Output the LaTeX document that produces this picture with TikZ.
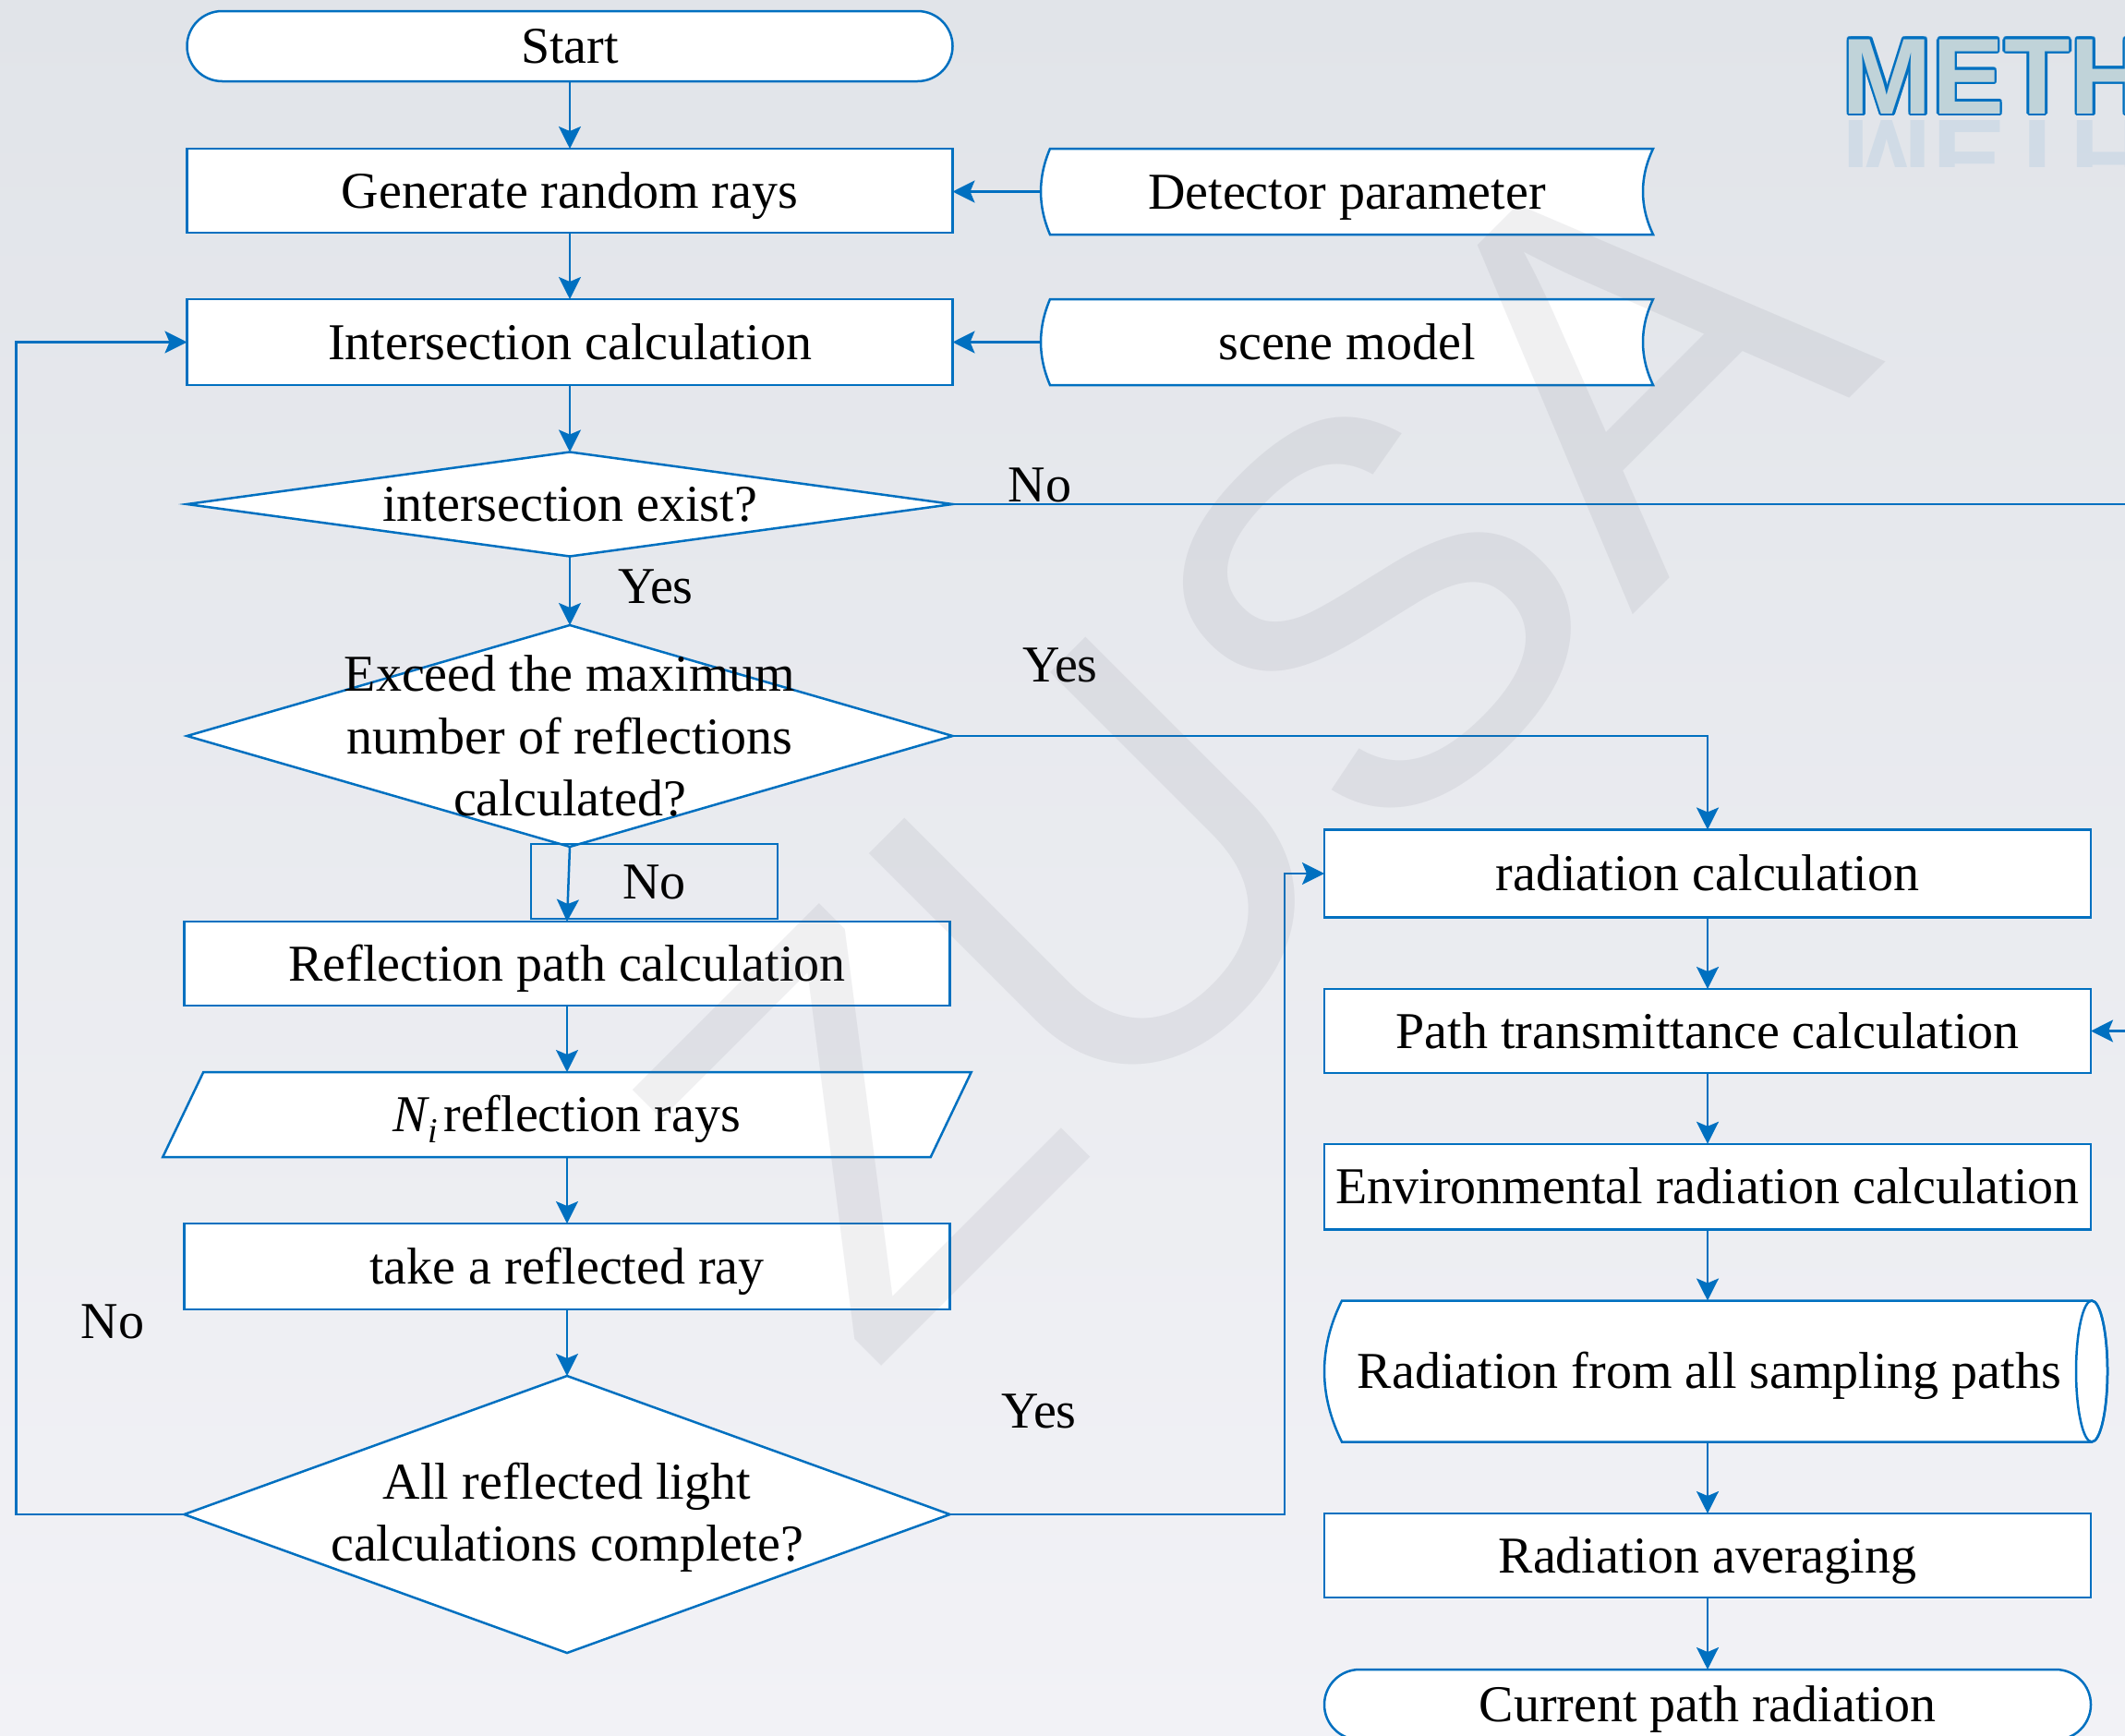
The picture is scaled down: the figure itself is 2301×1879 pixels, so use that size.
\documentclass[tikz,border=0pt]{standalone}
\usepackage{fontspec}
\usepackage{graphicx}
\setmainfont{Liberation Serif}
\newfontfamily\methfont{Liberation Sans}
\newfontfamily\wmfont{Liberation Sans}
\usetikzlibrary{arrows.meta,calc,shapes.geometric}
\definecolor{lblue}{RGB}{0,112,192}
\definecolor{bgtop}{RGB}{225,228,233}
\definecolor{bgbot}{RGB}{242,242,246}
\definecolor{methfill}{RGB}{192,211,217}
\definecolor{wmcol}{RGB}{110,110,125}
\newcommand\methtext{{\methfont\bfseries\fontsize{58.5pt}{60pt}\selectfont METH}}
\newcommand\methrefl{\scalebox{1}[-1]{\methfont\bfseries\fontsize{58.5pt}{60pt}\selectfont METH}}
\begin{document}
\begin{tikzpicture}[x=0.5pt, y=-0.5pt, font=\fontsize{28pt}{33.75pt}\selectfont,
  bl/.style={draw=lblue, line width=1.25pt},
  arr/.style={bl, -{Stealth[length=12pt,width=12pt,inset=2.5pt]}},
  box/.style={bl, fill=white, rectangle, inner sep=0pt, outer sep=0pt, text height=18.5pt, text depth=0pt},
  ghost/.style={rectangle, inner sep=0pt, outer sep=0pt},
  txt/.style={inner sep=0pt, text height=18.5pt, text depth=0pt},
  mtxt/.style={inner sep=0pt, align=center},
  dia/.style={bl, fill=white, diamond, inner sep=0pt, outer sep=0pt},
  lbl/.style={inner sep=0pt, anchor=base}]
\useasboundingbox (0,0) rectangle (2301,1879);
\clip (0,0) rectangle (2301,1879);
\shade[top color=bgtop, bottom color=bgbot] (0,0) rectangle (2301,1879);

% METH heading (cut by the right edge)
\foreach \a in {0,30,...,330}
  \node[anchor=base west, inner sep=0pt, text=lblue, name=mo\a] at ($(1994.5,123)+(\a:1.3pt)$) {\methtext};
\node[anchor=base west, inner sep=0pt, text=methfill] (meth) at (1994.5,123) {\methtext};
\begin{scope}
  \clip (1950,128) rectangle (2301,180);
  \node[anchor=base west, inner sep=0pt, text=lblue, opacity=0.08] (methr) at (1994.5,130) {\methrefl};
\end{scope}

% left column
\node[box, minimum width=414.5pt, minimum height=38pt, rounded corners=19pt] (start) at (617,50) {Start};
\node[box, minimum width=414.5pt, minimum height=45.5pt] (gen) at (617,206.5) {Generate random rays};
\node[box, minimum width=414.5pt, minimum height=46.5pt] (inter) at (617,370.5) {Intersection calculation};

% stored data
\node[ghost, minimum width=331.5pt, minimum height=46.5pt] (det) at (1458.5,207.5) {};
\draw[bl, fill=white] ($(det.north west)+(10,0)$) -- (det.north east)
  .. controls ($(det.north east)+(-14.7,31)$) and ($(det.south east)+(-14.7,-31)$) .. (det.south east)
  -- ($(det.south west)+(10,0)$)
  .. controls ($(det.south west)+(-3.3,-31)$) and ($(det.north west)+(-3.3,31)$) .. ($(det.north west)+(10,0)$) -- cycle;
\node[txt] (dett) at (det) {Detector parameter};
\node[ghost, minimum width=331.5pt, minimum height=46.5pt] (scene) at (1458.5,370.5) {};
\draw[bl, fill=white] ($(scene.north west)+(10,0)$) -- (scene.north east)
  .. controls ($(scene.north east)+(-14.7,31)$) and ($(scene.south east)+(-14.7,-31)$) .. (scene.south east)
  -- ($(scene.south west)+(10,0)$)
  .. controls ($(scene.south west)+(-3.3,-31)$) and ($(scene.north west)+(-3.3,31)$) .. ($(scene.north west)+(10,0)$) -- cycle;
\node[txt] (scenet) at (scene) {scene model};

\node[dia, minimum width=414.5pt, minimum height=56.5pt] (exist) at (617,546) {};
\node[txt] (existt) at (exist) {intersection exist?};

\node[dia, minimum width=414.5pt, minimum height=120pt] (exceed) at (617,797) {};
\node[mtxt] (exceedt) at (617,797) {Exceed the maximum\\number of reflections\\calculated?};

\node[box, minimum width=414.5pt, minimum height=45.5pt] (refl) at (614,1043.5) {Reflection path calculation};
\node[bl, rectangle, inner sep=0pt, outer sep=0pt, minimum width=133.5pt, minimum height=40.5pt, text height=18.5pt, text depth=0pt] (nobox) at (708.5,954.5) {No};

\node[ghost, minimum width=415.75pt, minimum height=46pt] (rays) at (614,1207) {};
\draw[bl, fill=white] ($(rays.north west)+(22,0)$) -- ($(rays.north east)+(22,0)$)
  -- ($(rays.south east)+(-22,0)$) -- ($(rays.south west)+(-22,0)$) -- cycle;
\node[txt] (rayst) at (rays) {{\itshape N}\raisebox{-0.22em}{\fontsize{19pt}{19pt}\selectfont\itshape i}\kern0.12em reflection rays};

\node[box, minimum width=414.5pt, minimum height=46.5pt] (take) at (614,1371.5) {take a reflected ray};

\node[dia, minimum width=414.5pt, minimum height=150pt] (all) at (614,1640) {};
\node[mtxt] (allt) at (614,1643) {All reflected light\\calculations complete?};

% right column
\node[box, minimum width=415pt, minimum height=47.5pt] (rad) at (1849,946) {radiation calculation};
\node[box, minimum width=415pt, minimum height=45.5pt] (path) at (1849,1116.5) {Path transmittance calculation};
\node[box, minimum width=415pt, minimum height=46.25pt] (env) at (1849,1285) {Environmental radiation calculation};

\node[ghost, minimum width=415.5pt, minimum height=76.5pt] (allp) at (1849.5,1485) {};
\draw[bl, fill=white] ($(allp.north west)+(19,0)$) -- (allp.north east)
  arc[start angle=90, end angle=-90, x radius=8.5pt, y radius=38.25pt]
  -- ($(allp.south west)+(19,0)$)
  .. controls ($(allp.south west)+(-6.3,-51)$) and ($(allp.north west)+(-6.3,51)$) .. ($(allp.north west)+(19,0)$) -- cycle;
\draw[bl] (allp.east) ellipse [x radius=8.5pt, y radius=38.25pt];
\node[txt] (allpt) at (1851,1485) {Radiation from all sampling paths};

\node[box, minimum width=415pt, minimum height=45.5pt] (avg) at (1849,1684.5) {Radiation averaging};
\node[box, minimum width=415pt, minimum height=38pt, rounded corners=19pt] (cur) at (1849,1846) {Current path radiation};

% connectors
\coordinate (offr) at (2340,546);
\coordinate (loopL) at (17.6,1640);
\coordinate (yesR) at (1391,1640);
\draw[arr] (start) -- (gen);
\draw[arr] (det.west) -- (gen.east |- det.west);
\draw[arr] (gen) -- (inter);
\draw[arr] (scene.west) -- (inter.east |- scene.west);
\draw[arr] (inter) -- (exist.north);
\draw[arr] (exist.east) -- (offr) |- (path.east);
\draw[arr] (exist.south) -- (exceed.north);
\draw[arr] (exceed.east) -| (rad.north);
\draw[arr] (exceed.south) -- (refl.north);
\draw[arr] (refl) -- (rays);
\draw[arr] (rays) -- (take);
\draw[arr] (take) -- (all.north);
\draw[arr] (all.west) -- (loopL) |- (inter.west);
\draw[arr] (all.east) -- (yesR) |- (rad.west);
\draw[arr] (rad) -- (path);
\draw[arr] (path) -- (env);
\draw[arr] (env.south) -- (allp.north -| env.south);
\draw[arr] (allp.south -| avg.north) -- (avg.north);
\draw[arr] (avg) -- (cur);

% labels
\node[lbl] (lno1) at (1126,543) {No};
\node[lbl] (lyes1) at (710,653) {Yes};
\node[lbl] (lyes2) at (1148,738) {Yes};
\node[lbl] (lno2) at (122,1449) {No};
\node[lbl] (lyes3) at (1125,1546) {Yes};

% watermark
\node[rotate=45, inner sep=0pt, text=wmcol, opacity=0.1, font=\wmfont\fontsize{292pt}{292pt}\selectfont] (wm) at (1350,800) {ZUSA};
\end{tikzpicture}
\end{document}
